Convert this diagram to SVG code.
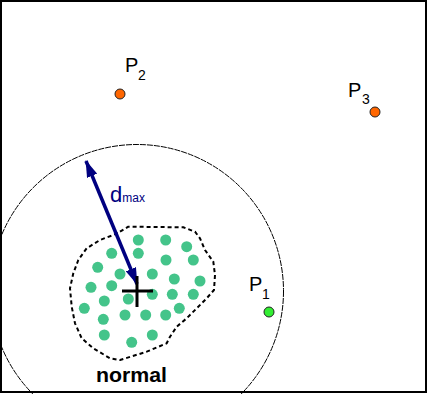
<svg xmlns="http://www.w3.org/2000/svg" width="428" height="394" viewBox="0 0 428 394">
<defs>
<style>
.lbl{font-family:"Liberation Sans",Arial,sans-serif;fill:#000}
.sub{font-family:"Liberation Sans",Arial,sans-serif;fill:#000;font-size:14px}
.dot{fill:#44C48A}
.pt{stroke:#222;stroke-width:1}
</style>
<marker id="ah" viewBox="0 0 17 11" refX="16" refY="5.5" markerWidth="17" markerHeight="11" markerUnits="userSpaceOnUse" orient="auto-start-reverse">
<path d="M0,0 L17,5.5 L0,11 Z" fill="#000080"/>
</marker>
</defs>
<rect x="1" y="1" width="425" height="391" fill="#fff" stroke="#000" stroke-width="2"/>
<g id="radius-circle">
<circle cx="137" cy="291" r="146.5" fill="none" stroke="#000" stroke-width="1" stroke-dasharray="6 1"/>
</g>
<g id="normal-cluster">
<path d="M120,231.7 L128.3,226.7 L183.3,227.3 L195,231.7 L200,238.3 L205,250 L213.3,261.7 L215,275 L214,290 L206.7,298.3 L196.7,308.3 L186.7,318.3 L176.7,326.7 L170,336.7 L166.7,343.3 L146.7,351.7 L120,360 L110,358.3 L93.3,348.3 L81.7,338.3 L75,323.3 L71.7,306.7 L70,288.3 L73.3,273.3 L78.3,260 L86.7,248.3 L100,240 L113.3,235 Z" fill="none" stroke="#000" stroke-width="2" stroke-dasharray="4 3" stroke-linejoin="round"/>
<g class="dot">
<circle cx="138.3" cy="240" r="5.5"/><circle cx="165.7" cy="240" r="5.5"/><circle cx="186.7" cy="246.7" r="5.5"/>
<circle cx="111.7" cy="253.3" r="5.5"/><circle cx="138.3" cy="253.3" r="5.5"/><circle cx="166" cy="260" r="5.5"/><circle cx="193.3" cy="260" r="5.5"/>
<circle cx="97.7" cy="267.3" r="5.5"/><circle cx="120" cy="274" r="5.5"/><circle cx="152.3" cy="274" r="5.5"/><circle cx="174.3" cy="279" r="5.5"/><circle cx="200" cy="281" r="5.5"/>
<circle cx="91" cy="287.3" r="5.5"/><circle cx="111.7" cy="285.7" r="5.5"/><circle cx="128.3" cy="299" r="5.5"/><circle cx="152.3" cy="294.3" r="5.5"/><circle cx="172.3" cy="294.3" r="5.5"/><circle cx="193.3" cy="294.3" r="5.5"/>
<circle cx="84.3" cy="308.3" r="5.5"/><circle cx="104.3" cy="301" r="5.5"/><circle cx="179.3" cy="308.3" r="5.5"/>
<circle cx="103.3" cy="319.3" r="5.5"/><circle cx="125" cy="315" r="5.5"/><circle cx="145.7" cy="315" r="5.5"/><circle cx="165.7" cy="315" r="5.5"/>
<circle cx="104.3" cy="335" r="5.5"/><circle cx="131.7" cy="342.3" r="5.5"/><circle cx="152.3" cy="335" r="5.5"/>
</g>
<text class="lbl" x="96" y="382" font-size="20" font-weight="bold" textLength="71" lengthAdjust="spacingAndGlyphs">normal</text>
</g>
<g id="connectors">
<line x1="86" y1="161" x2="137" y2="284" stroke="#000080" stroke-width="3.5" marker-start="url(#ah)" marker-end="url(#ah)"/>
<text x="110" y="202" font-family="'Liberation Sans',Arial,sans-serif" fill="#000080"><tspan font-size="22">d</tspan><tspan font-size="12">max</tspan></text>
</g>
<g id="centroid">
<line x1="122" y1="291" x2="153" y2="291" stroke="#000" stroke-width="3"/>
<line x1="137" y1="276" x2="137" y2="307" stroke="#000" stroke-width="3"/>
</g>
<g id="P1">
<circle class="pt" cx="269" cy="312" r="5" fill="#33EE33"/>
<text class="lbl" x="249" y="291" font-size="20">P</text>
<text class="sub" x="262" y="299">1</text>
</g>
<g id="P2">
<circle class="pt" cx="120" cy="94" r="5" fill="#FF6600"/>
<text class="lbl" x="125" y="72" font-size="20">P</text>
<text class="sub" x="138" y="80">2</text>
</g>
<g id="P3">
<circle class="pt" cx="375" cy="112" r="5" fill="#FF6600"/>
<text class="lbl" x="348" y="97" font-size="20">P</text>
<text class="sub" x="362" y="104">3</text>
</g>
</svg>
